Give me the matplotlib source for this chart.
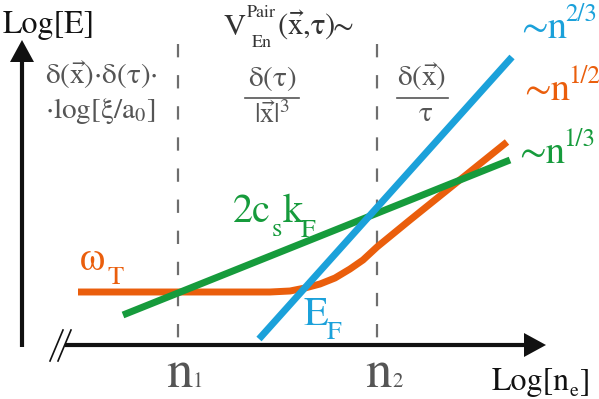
import numpy as np
import matplotlib.pyplot as plt

plt.rcParams['mathtext.fontset'] = 'stix'
plt.rcParams['mathtext.default'] = 'rm'
plt.rcParams['font.family'] = ['STIXGeneral', 'DejaVu Serif']

# schematic curves (x: log n_e, y: log E, picture units, y down)
ef_x = [259, 512]
ef_y = [339, 57]

cs_x = [123, 510]
cs_y = [315, 160]

wt_x = [78, 270, 290, 305, 320, 335, 350, 363, 377, 410, 507]
wt_y = [292, 292, 291, 288, 284, 278, 269, 260, 247, 220, 142]

# density marks
n_marks = [178, 377]
n_labels = ['1', '2']

# power laws at the right end
powers = ['2/3', '1/2', '1/3']

c_blue = '#1ba1da'
c_orange = '#ea5e0c'
c_green = '#169b3c'
c_gray = '#555555'
c_dash = '#6e6e6e'

fig = plt.figure(figsize=(5.99, 3.99), dpi=100)
ax = fig.add_axes([0, 0, 1, 1])
ax.set_xlim(0, 599)
ax.set_ylim(399, 0)
ax.axis('off')

# axes with arrow heads
y_ax_x, y_ax_bot, y_ax_tip = 22, 347, 40
x_ax_y, x_ax_left, x_ax_tip = 345, 65, 546
head_len, head_half = 22, 12
ax.plot([y_ax_x, y_ax_x], [y_ax_bot, y_ax_tip + head_len - 1], color='#111111', lw=3, solid_capstyle='butt')
ax.fill([y_ax_x - head_half, y_ax_x + head_half, y_ax_x],
        [y_ax_tip + head_len, y_ax_tip + head_len, y_ax_tip], color='#111111', lw=0)
ax.plot([x_ax_left, x_ax_tip - head_len + 1], [x_ax_y, x_ax_y], color='#111111', lw=3, solid_capstyle='butt')
ax.fill([x_ax_tip - head_len, x_ax_tip - head_len, x_ax_tip],
        [x_ax_y - head_half, x_ax_y + head_half, x_ax_y], color='#111111', lw=0)

# break mark "//"
for dx in [0, 8]:
    ax.plot([50 + dx, 63 + dx], [361, 330], color='#111111', lw=1.2)

# dashed separators
for xm in n_marks:
    ax.plot([xm, xm], [44, x_ax_y], color=c_dash, lw=1.6, linestyle=(0, (6, 8)), zorder=1)

# curves
ax.plot(wt_x, wt_y, color=c_orange, lw=5, solid_capstyle='butt', solid_joinstyle='round', zorder=2)
ax.plot(cs_x, cs_y, color=c_green, lw=5, solid_capstyle='butt', zorder=3)
ax.plot(ef_x, ef_y, color=c_blue, lw=5, solid_capstyle='butt', zorder=4)

# axis titles
ax.text(3, 33, 'Log[E]', fontsize=23, color='#111111', ha='left', va='baseline')
ax.text(492, 390, 'Log[n', fontsize=23, color='#111111', ha='left', va='baseline')
ax.text(569, 396, 'e', fontsize=14, color='#111111', ha='left', va='baseline')
ax.text(580, 390, ']', fontsize=23, color='#111111', ha='left', va='baseline')

# n1, n2 tick labels
for xm, lab in zip(n_marks, n_labels):
    ax.text(xm - 12, 387, 'n', fontsize=38, color=c_gray, ha='left', va='baseline')
    ax.text(xm + 15, 387, lab, fontsize=15, color=c_gray, ha='left', va='baseline')

# pair interaction header
ax.text(223, 35, 'V', fontsize=22, color='#333333', ha='left', va='baseline')
ax.text(247, 17, 'Pair', fontsize=13, color='#333333', ha='left', va='baseline')
ax.text(252, 47, 'En', fontsize=13, color='#333333', ha='left', va='baseline')
ax.text(277, 35, r'$(\vec{\mathrm{x}}{,}\tau)$', fontsize=22, color='#333333', ha='left', va='baseline')
ax.text(333, 35, '\u223c', fontsize=22, color='#333333', ha='left', va='baseline')

# regime formulas
ax.text(45, 84, r'$\delta(\vec{\mathrm{x}}){\cdot}\delta(\tau){\cdot}$', fontsize=21, color=c_gray,
        ha='left', va='baseline')
ax.text(45, 118, r'${\cdot}\mathrm{log}[\xi/\mathrm{a}_0]$', fontsize=21, color=c_gray,
        ha='left', va='baseline')

ax.text(272, 86, r'$\delta(\tau)$', fontsize=21, color=c_gray, ha='center', va='baseline')
ax.plot([245, 299], [98, 98], color=c_gray, lw=1.2)
ax.text(272, 123, r'$|\vec{\mathrm{x}}|^3$', fontsize=20, color=c_gray, ha='center', va='baseline')

ax.text(422, 86, r'$\delta(\vec{\mathrm{x}})$', fontsize=21, color=c_gray, ha='center', va='baseline')
ax.plot([397, 448], [98, 98], color=c_gray, lw=1.2)
ax.text(425, 121, r'$\tau$', fontsize=21, color=c_gray, ha='center', va='baseline')

# scaling labels
for (lx, ly), p, col in zip([(521, 38), (524, 100), (519, 163)], powers, [c_blue, c_orange, c_green]):
    ax.text(lx, ly, '\u223cn', fontsize=28, color=col, ha='left', va='baseline')
    ax.text(lx + 44, ly - 17, p, fontsize=18, color=col, ha='left', va='baseline')

# curve labels, subscripts set low as in the drawing
ax.text(233, 222, '2c', fontsize=29, color=c_green, ha='left', va='baseline')
ax.text(272, 236, 's', fontsize=19, color=c_green, ha='left', va='baseline')
ax.text(283, 222, 'k', fontsize=29, color=c_green, ha='left', va='baseline')
ax.text(301, 237, 'F', fontsize=19, color=c_green, ha='left', va='baseline')

ax.text(79, 270, r'$\omega$', fontsize=29, color=c_orange, ha='left', va='baseline')
ax.text(107, 284, 'T', fontsize=19, color=c_orange, ha='left', va='baseline')

ax.text(304, 325, 'E', fontsize=29, color=c_blue, ha='left', va='baseline')
ax.text(327, 339, 'F', fontsize=19, color=c_blue, ha='left', va='baseline')

fig.savefig('out.png', dpi=100)
